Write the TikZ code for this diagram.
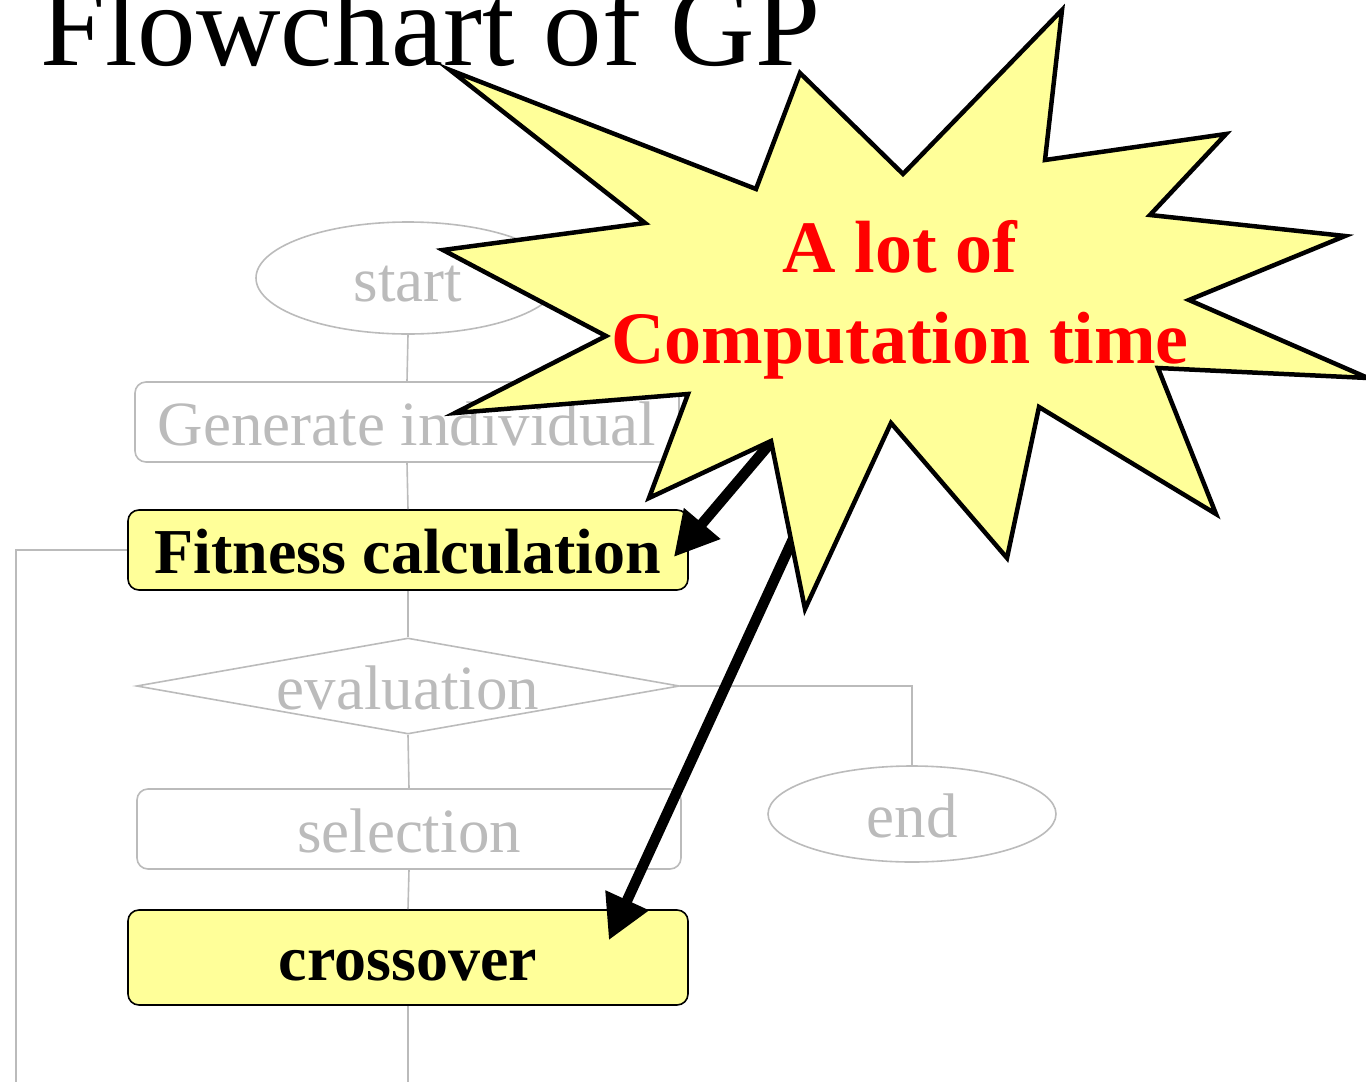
\documentclass[tikz,border=0pt]{standalone}
\usepackage{fontspec}
\setmainfont{Liberation Serif}
\usetikzlibrary{shapes.geometric,arrows.meta,calc}
\definecolor{flowgray}{RGB}{187,187,187}
\definecolor{hilite}{RGB}{255,255,153}
\begin{document}
\begin{tikzpicture}[x=1pt,y=-1pt,
  flowline/.style={draw=flowgray,line width=1.6pt},
  graytext/.style={text=flowgray,inner sep=0pt,font=\fontsize{63}{70}\selectfont,
    text height=46pt,text depth=0pt},
  grayterm/.style={graytext,ellipse,draw=flowgray,line width=1.6pt},
  graybox/.style={graytext,rectangle,rounded corners=11pt,draw=flowgray,line width=1.6pt,
    minimum width=544pt,minimum height=80pt},
  graydecision/.style={graytext,diamond,draw=flowgray,line width=1.6pt,aspect=5.66,
    minimum width=543pt,minimum height=96pt},
  hotbox/.style={rectangle,rounded corners=11pt,draw=black,line width=1.6pt,fill=hilite,
    minimum width=560pt,inner sep=0pt,font=\bfseries\fontsize{64}{70}\selectfont,
    text height=46pt,text depth=0pt},
  bigarrow/.style={line width=10.5pt,-{Triangle[length=44pt,width=45pt]}},
  burst/.style={draw=black,line width=4.5pt,fill=hilite,line join=miter,miter limit=20},
]
\useasboundingbox (0,0) rectangle (1366,1082);
\clip (0,0) rectangle (1366,1082);

% title
\node[anchor=base west,inner sep=0pt,font=\fontsize{117}{124}\selectfont] (title) at (40,65) {Flowchart of GP};

% flowchart steps
\node[grayterm,minimum width=304pt,minimum height=112pt] (startnode) at (408,278) {start};
\node[graybox] (gen) at (407,422) {Generate individual};
\node[hotbox,minimum height=80pt] (fit) at (408,550) {Fitness calculation};
\node[graydecision] (eval) at (408,686) {evaluation};
\node[graybox] (sel) at (409,829) {selection};
\node[hotbox,minimum height=95pt] (cross) at (408,957.5) {crossover};
\node[grayterm,minimum width=288pt,minimum height=96pt] (endnode) at (912,814) {end};

\coordinate (loopcorner) at (16,550);
\coordinate (loopbottom) at (16,1100);
\coordinate (crossdown) at (408,1100);

% flow connectors
\draw[flowline] (startnode.south) -- (gen.north);
\draw[flowline] (gen.south) -- (fit.north);
\draw[flowline] (fit.south) -- (eval.north);
\draw[flowline] (eval.south) -- (sel.north);
\draw[flowline] (sel.south) -- (cross.north);
\draw[flowline] (cross.south) -- (crossdown);
\draw[flowline] (fit.west) -- (loopcorner) -- (loopbottom);
\draw[flowline] (eval.east) -| (endnode.north);

% pointers from the burst
\coordinate (burstA) at (801,407);
\coordinate (burstB) at (834,450);
\draw[bigarrow] (burstA) -- ($(fit.east)+(-15,7)$);
\draw[bigarrow] (burstB) -- ($(cross.north east)+(-80,31)$);

% explosion burst
\path[burst] (450,70) -- (756,189) -- (800,73) -- (903,174) -- (1062,10)
  -- (1045,160) -- (1226,134) -- (1150,215) -- (1345,236) -- (1189,300)
  -- (1368,378) -- (1158,368) -- (1216,514) -- (1039,407) -- (1007,558)
  -- (891,423) -- (805,609) -- (771,441) -- (649,498) -- (688,394)
  -- (455,413) -- (606,336) -- (443,250) -- (645,223) -- cycle;

\node[font=\bfseries\fontsize{74}{91}\selectfont,text=red,align=center,inner sep=0pt]
  (note) at (900,300) {A lot of\\Computation time};
\end{tikzpicture}
\end{document}
